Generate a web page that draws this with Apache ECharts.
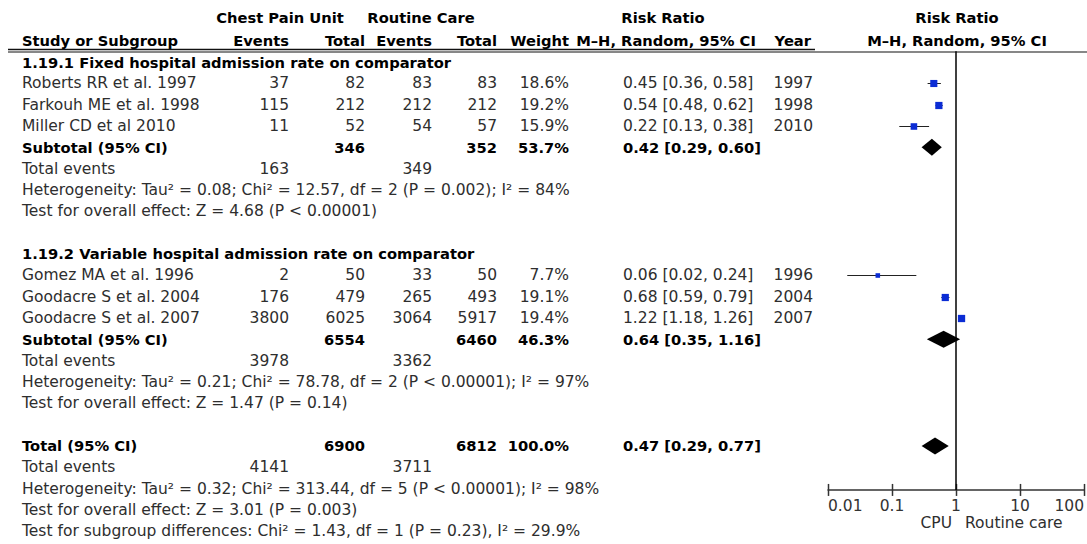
<!DOCTYPE html>
<html>
<head>
<meta charset="utf-8">
<script src="https://cdn.jsdelivr.net/npm/echarts@6/dist/echarts.min.js"></script>
<style>
  html, body { margin: 0; padding: 0; background: #fff; }
  #chart { width: 1087px; height: 544px; }
</style>
</head>
<body>
<div id="chart"></div>
<script>
// ---- Individual studies ----
const studies   = ['Roberts RR et al. 1997', 'Farkouh ME et al. 1998', 'Miller CD et al 2010',
                   'Gomez MA et al. 1996', 'Goodacre S et al. 2004', 'Goodacre S et al. 2007'];
const studyGroup = [0, 0, 0, 1, 1, 1];
const cpuEvents = [37, 115, 11, 2, 176, 3800];
const cpuTotal  = [82, 212, 52, 50, 479, 6025];
const rcEvents  = [83, 212, 54, 33, 265, 3064];
const rcTotal   = [83, 212, 57, 50, 493, 5917];
const weights   = [18.6, 19.2, 15.9, 7.7, 19.1, 19.4];
const rr        = [0.45, 0.54, 0.22, 0.06, 0.68, 1.22];
const rrLow     = [0.36, 0.48, 0.13, 0.02, 0.59, 1.18];
const rrHigh    = [0.58, 0.62, 0.38, 0.24, 0.79, 1.26];
const years     = [1997, 1998, 2010, 1996, 2004, 2007];

// ---- Subgroup summaries ----
const subgroupTitles = ['1.19.1 Fixed hospital admission rate on comparator',
                        '1.19.2 Variable hospital admission rate on comparator'];
const subCpuTotal    = [346, 6554];
const subRcTotal     = [352, 6460];
const subWeight      = [53.7, 46.3];
const subRR          = [0.42, 0.64];
const subLow         = [0.29, 0.35];
const subHigh        = [0.60, 1.16];
const subCpuEvents   = [163, 3978];
const subRcEvents    = [349, 3362];
const subHeterogeneity = [
  'Heterogeneity: Tau\u00B2 = 0.08; Chi\u00B2 = 12.57, df = 2 (P = 0.002); I\u00B2 = 84%',
  'Heterogeneity: Tau\u00B2 = 0.21; Chi\u00B2 = 78.78, df = 2 (P < 0.00001); I\u00B2 = 97%'
];
const subOverall = [
  'Test for overall effect: Z = 4.68 (P < 0.00001)',
  'Test for overall effect: Z = 1.47 (P = 0.14)'
];

// ---- Pooled total ----
const totalCpu = 6900, totalRc = 6812, totalWeight = 100.0;
const totalRR = 0.47, totalLow = 0.29, totalHigh = 0.77;
const totalCpuEvents = 4141, totalRcEvents = 3711;
const totalHeterogeneity = 'Heterogeneity: Tau\u00B2 = 0.32; Chi\u00B2 = 313.44, df = 5 (P < 0.00001); I\u00B2 = 98%';
const totalOverall = 'Test for overall effect: Z = 3.01 (P = 0.003)';
const subgroupDiff = 'Test for subgroup differences: Chi\u00B2 = 1.43, df = 1 (P = 0.23), I\u00B2 = 29.9%';

// ---- Axis ----
const axisTickValues = [0.01, 0.1, 1, 10, 100];
const favoursLeft = 'CPU';
const favoursRight = 'Routine care';

// ---- Layout ----
const FONT = '"DejaVu Sans", "Lucida Grande", Verdana, sans-serif';
const FS = 15.5, FS_B = 14.7;
const ROW0 = 62, ROWH = 21.333;
const AXIS_ROW = 20.06;
const COL = { name: 22, cpuEv: 289, cpuTot: 365, rcEv: 432, rcTot: 497, weight: 569, rr: 623, year: 813 };
const TXT = '#2e2e2e', BOLD = '#000';

const rowY = r => ROW0 + r * ROWH;
const fmtRR = (e, l, h) => `${e.toFixed(2)} [${l.toFixed(2)}, ${h.toFixed(2)}]`;

const graphics = [];
function txt(str, x, y, align, bold) {
  graphics.push({
    type: 'text', x: x, y: y, silent: true,
    style: {
      text: String(str), fill: bold ? BOLD : TXT,
      font: (bold ? 'bold ' + FS_B : FS) + 'px ' + FONT,
      textAlign: align, textVerticalAlign: 'middle'
    }
  });
}

// Header block
txt('Chest Pain Unit', 280, 17, 'center', true);
txt('Routine Care', 421, 17, 'center', true);
txt('Risk Ratio', 663, 17, 'center', true);
txt('Risk Ratio', 957, 17, 'center', true);
txt('Study or Subgroup', COL.name, 40, 'left', true);
txt('Events', COL.cpuEv, 40, 'right', true);
txt('Total', COL.cpuTot, 40, 'right', true);
txt('Events', COL.rcEv, 40, 'right', true);
txt('Total', COL.rcTot, 40, 'right', true);
txt('Weight', COL.weight, 40, 'right', true);
txt('M\u2013H, Random, 95% CI', 666, 40, 'center', true);
txt('Year', 811, 40, 'right', true);
txt('M\u2013H, Random, 95% CI', 957, 40, 'center', true);

graphics.push({ type: 'line', silent: true, shape: { x1: 8, y1: 49.5, x2: 815, y2: 49.5 }, style: { stroke: '#111', lineWidth: 1.5 } });
graphics.push({ type: 'line', silent: true, shape: { x1: 8, y1: 52, x2: 1087, y2: 52 }, style: { stroke: '#111', lineWidth: 1.2 } });

// Table body; records the row each plotted item sits on
const studyPoints = [];
const diamondPoints = [];
let r = 0;
subgroupTitles.forEach((title, g) => {
  txt(title, COL.name, rowY(r), 'left', true);
  r++;
  studies.forEach((name, i) => {
    if (studyGroup[i] !== g) return;
    const y = rowY(r);
    txt(name, COL.name, y, 'left');
    txt(cpuEvents[i], COL.cpuEv, y, 'right');
    txt(cpuTotal[i], COL.cpuTot, y, 'right');
    txt(rcEvents[i], COL.rcEv, y, 'right');
    txt(rcTotal[i], COL.rcTot, y, 'right');
    txt(weights[i].toFixed(1) + '%', COL.weight, y, 'right');
    txt(fmtRR(rr[i], rrLow[i], rrHigh[i]), COL.rr, y, 'left');
    txt(years[i], COL.year, y, 'right');
    studyPoints.push([rr[i], r, rrLow[i], rrHigh[i], weights[i]]);
    r++;
  });
  let y = rowY(r);
  txt('Subtotal (95% CI)', COL.name, y, 'left', true);
  txt(subCpuTotal[g], COL.cpuTot, y, 'right', true);
  txt(subRcTotal[g], COL.rcTot, y, 'right', true);
  txt(subWeight[g].toFixed(1) + '%', COL.weight, y, 'right', true);
  txt(fmtRR(subRR[g], subLow[g], subHigh[g]), COL.rr, y, 'left', true);
  diamondPoints.push([subRR[g], r, subLow[g], subHigh[g]]);
  r++;
  y = rowY(r);
  txt('Total events', COL.name, y, 'left');
  txt(subCpuEvents[g], COL.cpuEv, y, 'right');
  txt(subRcEvents[g], COL.rcEv, y, 'right');
  r++;
  txt(subHeterogeneity[g], COL.name, rowY(r), 'left');
  r++;
  txt(subOverall[g], COL.name, rowY(r), 'left');
  r += 2;
});

let y = rowY(r);
txt('Total (95% CI)', COL.name, y, 'left', true);
txt(totalCpu, COL.cpuTot, y, 'right', true);
txt(totalRc, COL.rcTot, y, 'right', true);
txt(totalWeight.toFixed(1) + '%', COL.weight, y, 'right', true);
txt(fmtRR(totalRR, totalLow, totalHigh), COL.rr, y, 'left', true);
diamondPoints.push([totalRR, r, totalLow, totalHigh]);
r++;
y = rowY(r);
txt('Total events', COL.name, y, 'left');
txt(totalCpuEvents, COL.cpuEv, y, 'right');
txt(totalRcEvents, COL.rcEv, y, 'right');
r++;
txt(totalHeterogeneity, COL.name, rowY(r), 'left'); r++;
txt(totalOverall, COL.name, rowY(r), 'left'); r++;
txt(subgroupDiff, COL.name, rowY(r), 'left');

// Favours labels under the plot axis
txt(favoursLeft, 952, 523, 'right');
txt(favoursRight, 965, 523, 'left');

const chart = echarts.init(document.getElementById('chart'), null, { renderer: 'svg' });

chart.setOption({
  animation: false,
  backgroundColor: '#fff',
  grid: {
    left: 828, right: 0,
    top: ROW0 - 0.5 * ROWH,
    height: (AXIS_ROW + 0.5) * ROWH
  },
  xAxis: {
    type: 'log', logBase: 10,
    min: axisTickValues[0], max: axisTickValues[axisTickValues.length - 1],
    interval: 1, position: 'bottom',
    splitLine: { show: false },
    axisLine: { show: true, onZero: false, lineStyle: { color: '#333', width: 1.5 } },
    axisTick: { show: false },
    axisLabel: {
      show: true, margin: 8, color: '#333', fontSize: FS, fontFamily: FONT,
      alignMinLabel: 'left', alignMaxLabel: 'right',
      formatter: v => String(parseFloat(Number(v).toPrecision(6)))
    }
  },
  yAxis: { type: 'value', min: -0.5, max: AXIS_ROW, inverse: true, show: false },
  graphic: graphics,
  series: [
    {
      // tick marks crossing the axis line
      type: 'custom',
      name: 'ticks',
      data: axisTickValues.map(v => [v, AXIS_ROW]),
      encode: { x: 0, y: 1 },
      silent: true,
      renderItem(params, api) {
        const p = api.coord([api.value(0), api.value(1)]);
        const x = Math.min(Math.round(p[0]) + 0.5, 1086);
        return {
          type: 'line',
          shape: { x1: x, y1: p[1] - 6, x2: x, y2: p[1] + 6 },
          style: { stroke: '#333', lineWidth: 1.5 }
        };
      }
    },
    {
      type: 'custom',
      name: 'studies',
      data: studyPoints,
      encode: { x: 0, y: 1 },
      renderItem(params, api) {
        const row = api.value(1);
        const p = api.coord([api.value(0), row]);
        const pl = api.coord([api.value(2), row]);
        const ph = api.coord([api.value(3), row]);
        const s = 1.65 * Math.sqrt(api.value(4));
        const yy = Math.round(p[1]) + 0.5;
        return {
          type: 'group',
          children: [
            { type: 'line', shape: { x1: pl[0], y1: yy, x2: ph[0], y2: yy }, style: { stroke: '#222', lineWidth: 1 } },
            { type: 'rect', shape: { x: p[0] - s / 2, y: yy - s / 2, width: s, height: s }, style: { fill: '#0b2cd4' } }
          ]
        };
      },
      markLine: {
        silent: true, symbol: 'none', label: { show: false },
        lineStyle: { color: '#000', width: 1.5, type: 'solid' },
        data: [{ xAxis: 1 }]
      }
    },
    {
      type: 'custom',
      name: 'pooled',
      data: diamondPoints,
      encode: { x: 0, y: 1 },
      renderItem(params, api) {
        const row = api.value(1);
        const p = api.coord([api.value(0), row]);
        const pl = api.coord([api.value(2), row]);
        const ph = api.coord([api.value(3), row]);
        const h = 8.5;
        return {
          type: 'polygon',
          shape: { points: [[pl[0], p[1]], [p[0], p[1] - h], [ph[0], p[1]], [p[0], p[1] + h]] },
          style: { fill: '#000' }
        };
      }
    }
  ]
});
</script>
</body>
</html>
